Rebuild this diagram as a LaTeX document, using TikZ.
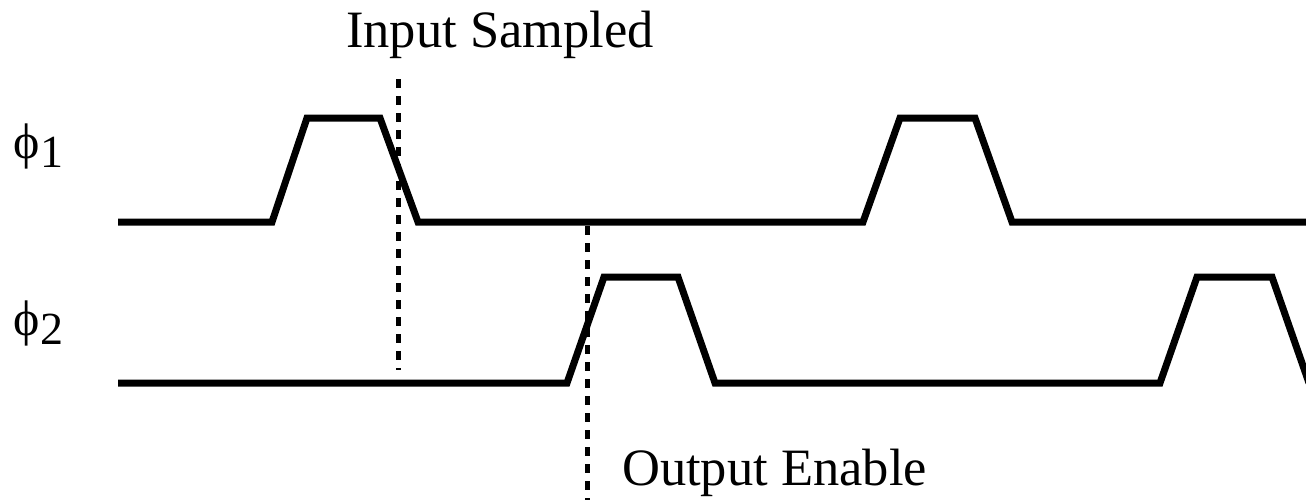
\documentclass[tikz,border=0pt]{standalone}
\usepackage{fontspec}
\setmainfont{Liberation Serif}
\begin{document}
\begin{tikzpicture}[x=1pt,y=-1pt,
  signal/.style={line width=7pt,line join=miter,line cap=butt},
  marker/.style={line width=5pt,dash pattern=on 9pt off 8pt},
  lbl/.style={inner sep=0pt,anchor=base west,font=\fontsize{52.5}{60}\selectfont},
  phase/.style={inner sep=0pt,anchor=base west,font=\fontsize{50}{60}\selectfont}]
  \clip (0,0) rectangle (1306,499);

  % phase labels
  \node[phase] (p1) at (13,158) {ϕ\kern1pt\raisebox{-9pt}{\fontsize{46}{50}\selectfont 1}};
  \node[phase] (p2) at (13,335) {ϕ\kern1pt\raisebox{-9pt}{\fontsize{46}{50}\selectfont 2}};

  % event labels
  \node[lbl] (ins) at (346,47) {Input Sampled};
  \node[lbl] (oen) at (622,485) {Output Enable};

  % clock phi 1
  \draw[signal] (118,222) -- (272,222) -- (307,118) -- (380,118) -- (418,222)
    -- (863,222) -- (900,118) -- (975,118) -- (1012,222) -- (1320,222);

  % clock phi 2
  \draw[signal] (118,383) -- (567,383) -- (604,277) -- (678,277) -- (715,383)
    -- (1160,383) -- (1197,277) -- (1272,277) -- (1309,383);

  % sampling and enable instants
  \coordinate (s1) at (398,79);
  \coordinate (s2) at (398,370);
  \coordinate (e1) at (587,226);
  \coordinate (e2) at (587,505);
  \draw[marker] (s1) -- (s2);
  \draw[marker] (e1) -- (e2);
\end{tikzpicture}
\end{document}
